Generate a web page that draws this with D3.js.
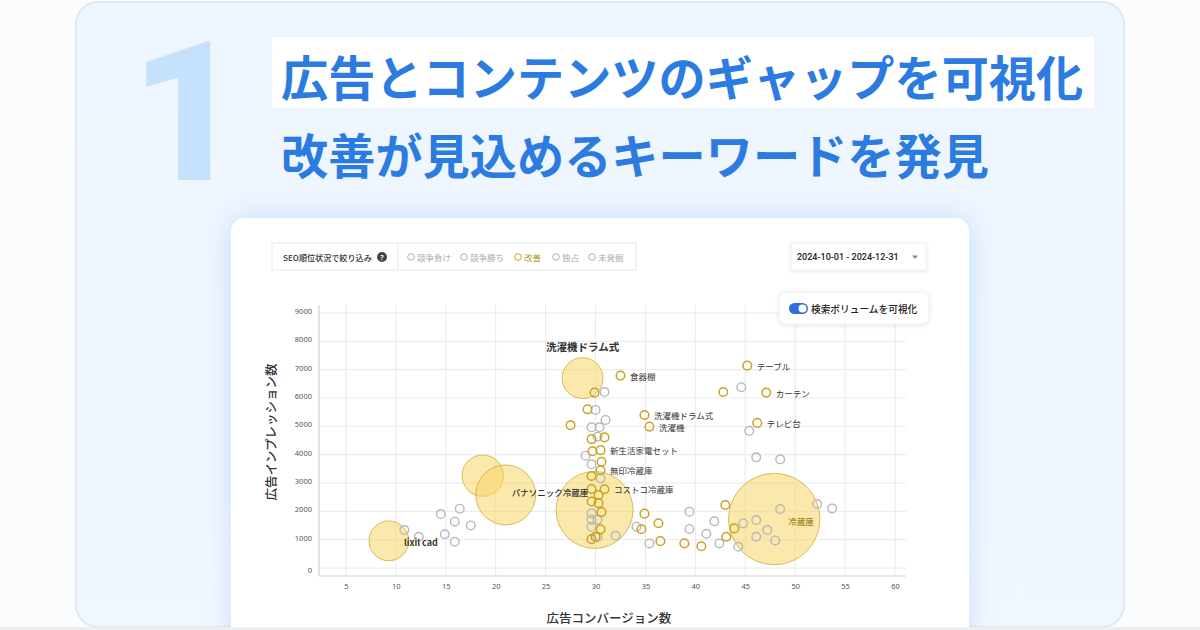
<!DOCTYPE html>
<html lang="ja">
<head>
<meta charset="utf-8">
<script src="https://cdn.jsdelivr.net/npm/d3@7.9.0/dist/d3.min.js"></script>
<style>
  html, body { margin: 0; padding: 0; background: #fbfcfd; }
  svg { display: block; font-family: 'Noto Sans CJK JP', 'Noto Sans', sans-serif; }
</style>
</head>
<body>
<svg id="chart" width="1200" height="630"></svg>
<script>
// ---- data ----
const xTicks = [5, 10, 15, 20, 25, 30, 35, 40, 45, 50, 55, 60];
const yTicks = [0, 1000, 2000, 3000, 4000, 5000, 6000, 7000, 8000, 9000];
const statusOptions = ['競争負け', '競争勝ち', '改善', '独占', '未発掘'];
const activeStatus = '改善';

// bubbles: conversions, impressions, search volume
const bubbleNames = ['lixil cad', '', 'パナソニック冷蔵庫', '', '洗濯機ドラム式', '冷蔵庫'];
const bubbleConv = [9.3, 18.7, 21.0, 29.9, 28.7, 47.9];
const bubbleImp = [960, 3260, 2580, 2050, 6700, 1730];
const bubbleVolume = [19000, 20500, 43000, 71000, 20000, 100000];

// labelled keywords (改善)
const keywordNames = ['食器棚', '洗濯機ドラム式', '洗濯機', '新生活家電セット', '無印冷蔵庫', 'コストコ冷蔵庫', 'テーブル', 'カーテン', 'テレビ台'];
const keywordConv = [32.5, 34.9, 35.4, 30.5, 30.5, 30.9, 45.2, 47.1, 46.2];
const keywordImp = [6790, 5400, 4990, 4160, 3450, 2780, 7140, 6190, 5120];

// other 改善 keywords [conversions, impressions]
const improvePoints = [
  [29.9, 6190], [29.2, 5600], [27.5, 5040], [29.6, 4550], [30.9, 4610], [29.7, 4120],
  [30.6, 3750], [29.6, 3250], [29.6, 2790], [30.3, 2580], [29.6, 2350], [30.3, 2290],
  [30.6, 1975], [30.5, 1365], [29.6, 1020], [30.0, 1100], [34.9, 1920], [36.3, 1580],
  [34.6, 1370], [36.5, 950], [38.9, 870], [40.6, 770], [43.1, 1105], [42.8, 6210],
  [43.0, 2225], [43.9, 1400]
];

// keywords in other statuses
const otherPoints = [
  [10.85, 1340], [12.3, 1105], [14.5, 1905], [16.4, 2095], [15.9, 1635], [17.5, 1505],
  [14.9, 1190], [15.9, 930], [30.9, 6210], [30.0, 5580], [31.0, 5225], [29.6, 4965],
  [30.4, 4965], [30.2, 4635], [29.0, 3965], [29.6, 3660], [30.5, 3165], [29.6, 1930],
  [29.6, 1700], [30.2, 1700], [29.6, 1460], [30.2, 1100], [32.0, 1140], [34.1, 1460],
  [35.4, 870], [39.4, 1990], [39.4, 1380], [41.9, 1650], [41.1, 1210], [42.4, 870],
  [44.6, 6380], [45.4, 4840], [46.1, 3905], [48.5, 3835], [52.2, 2260], [53.7, 2105],
  [48.5, 2080], [44.3, 750], [44.8, 1575], [46.1, 1695], [47.2, 1340], [46.1, 1105],
  [48.0, 975]
];

// ---- drawing ----
const svg = d3.select('#chart');
const defs = svg.append('defs');

const bg = defs.append('linearGradient').attr('id', 'bg').attr('x1', 0).attr('y1', 0).attr('x2', 0).attr('y2', 1);
bg.append('stop').attr('offset', '0%').attr('stop-color', '#edf5fe');
bg.append('stop').attr('offset', '100%').attr('stop-color', '#f1f7fe');

const glow = defs.append('filter').attr('id', 'glow')
  .attr('x', '-20%').attr('y', '-20%').attr('width', '140%').attr('height', '140%');
glow.append('feDropShadow').attr('dx', 0).attr('dy', 0).attr('stdDeviation', 14)
  .attr('flood-color', '#90c2f3').attr('flood-opacity', 0.45);

const soft = defs.append('filter').attr('id', 'soft')
  .attr('x', '-20%').attr('y', '-40%').attr('width', '140%').attr('height', '180%');
soft.append('feDropShadow').attr('dx', 0).attr('dy', 1).attr('stdDeviation', 2)
  .attr('flood-color', '#000').attr('flood-opacity', 0.1);

// outer frame
svg.append('rect').attr('x', 76).attr('y', 2).attr('width', 1048).attr('height', 625)
  .attr('rx', 22).attr('fill', 'url(#bg)').attr('stroke', '#dce3ea').attr('stroke-width', 1.5);

// big number
svg.append('text').attr('x', 187).attr('y', 180).attr('text-anchor', 'middle')
  .attr('font-family', 'Roboto, sans-serif').attr('font-weight', 900).attr('font-size', 195)
  .attr('fill', '#c6e1fb').text('1');

// headline
svg.append('rect').attr('x', 272).attr('y', 37).attr('width', 822).attr('height', 71).attr('fill', '#ffffff');
svg.append('text').attr('x', 281).attr('y', 75).attr('dominant-baseline', 'central')
  .attr('font-size', 47.2).attr('font-weight', 700).attr('fill', '#2c7be0')
  .text('広告とコンテンツのギャップを可視化');
svg.append('text').attr('x', 281).attr('y', 153).attr('dominant-baseline', 'central')
  .attr('font-size', 47.2).attr('font-weight', 700).attr('fill', '#2c7be0')
  .text('改善が見込めるキーワードを発見');

// card
svg.append('rect').attr('x', 231).attr('y', 218).attr('width', 738).attr('height', 430)
  .attr('rx', 14).attr('fill', '#ffffff').attr('filter', 'url(#glow)');

// filter bar
const bar = svg.append('g');
bar.append('rect').attr('x', 272).attr('y', 243).attr('width', 364).attr('height', 27)
  .attr('fill', '#fff').attr('stroke', '#e6e8eb');
bar.append('line').attr('x1', 398).attr('x2', 398).attr('y1', 243).attr('y2', 270).attr('stroke', '#e6e8eb');
bar.append('text').attr('x', 283).attr('y', 257).attr('dominant-baseline', 'central')
  .attr('font-size', 8.1).attr('font-weight', 500).attr('fill', '#333').text('SEO順位状況で絞り込み');
bar.append('circle').attr('cx', 382).attr('cy', 257).attr('r', 5).attr('fill', '#444');
bar.append('text').attr('x', 382).attr('y', 257.5).attr('text-anchor', 'middle').attr('dominant-baseline', 'central')
  .attr('font-family', "'Noto Sans', sans-serif").attr('font-size', 7).attr('font-weight', 700)
  .attr('fill', '#fff').text('?');

const optionX = [411, 464, 518, 556, 592];
const opt = bar.selectAll('g.opt').data(statusOptions).join('g').attr('class', 'opt')
  .attr('transform', (d, i) => `translate(${optionX[i]},257)`);
opt.append('circle').attr('r', 3.3).attr('fill', 'none').attr('stroke-width', 1)
  .attr('stroke', d => d === activeStatus ? '#c9a420' : '#aeb0b5');
opt.append('text').attr('x', 6).attr('dominant-baseline', 'central').attr('font-size', 8.5)
  .attr('fill', d => d === activeStatus ? '#b2951a' : '#a9abb0').text(d => d);

// date picker
svg.append('rect').attr('x', 791).attr('y', 243).attr('width', 135).attr('height', 27)
  .attr('fill', '#fff').attr('stroke', '#eeeff1').attr('filter', 'url(#soft)');
svg.append('text').attr('x', 797).attr('y', 257).attr('dominant-baseline', 'central')
  .attr('font-family', 'Roboto, sans-serif').attr('font-size', 9).attr('font-weight', 500)
  .attr('fill', '#222').text('2024-10-01 - 2024-12-31');
svg.append('path').attr('d', 'M912,255.5 L918,255.5 L915,259 Z').attr('fill', '#888');

// ---- scales ----
const x = d3.scaleLinear().domain([2.3, 61.1]).range([319, 906]);
const y = d3.scaleLinear().domain([-280, 9280]).range([576, 305]);
const r = d3.scaleSqrt().domain([0, 100000]).range([0, 45.7]);

const plot = svg.append('g');

// grid
plot.append('g').selectAll('line').data(xTicks).join('line')
  .attr('x1', d => x(d)).attr('x2', d => x(d)).attr('y1', y.range()[1]).attr('y2', y.range()[0])
  .attr('stroke', '#e8eaee');
plot.append('g').selectAll('line').data(yTicks).join('line')
  .attr('x1', x.range()[0]).attr('x2', x.range()[1]).attr('y1', d => y(d)).attr('y2', d => y(d))
  .attr('stroke', '#e8eaee');

// axes
const xAxis = plot.append('g').attr('transform', `translate(0,${y.range()[0]})`)
  .call(d3.axisBottom(x).tickValues(xTicks).tickFormat(d3.format('d')).tickSize(0).tickPadding(8));
const yAxis = plot.append('g').attr('transform', `translate(${x.range()[0]},0)`)
  .call(d3.axisLeft(y).tickValues(yTicks).tickFormat(d3.format('d')).tickSize(0).tickPadding(7));
[xAxis, yAxis].forEach(a => {
  a.select('.domain').remove();
  a.selectAll('text').attr('font-family', "'Noto Sans', sans-serif").attr('font-size', 7.5).attr('fill', '#555');
});
yAxis.selectAll('text').attr('dy', d => d === 0 ? '0.55em' : '0.05em');

plot.append('line').attr('x1', x.range()[0]).attr('x2', x.range()[1])
  .attr('y1', y.range()[0]).attr('y2', y.range()[0]).attr('stroke', '#c7d3d6').attr('stroke-width', 1.2);
plot.append('line').attr('x1', x.range()[0]).attr('x2', x.range()[0])
  .attr('y1', y.range()[1]).attr('y2', y.range()[0]).attr('stroke', '#c7d3d6').attr('stroke-width', 1.2);

// axis titles
svg.append('text').attr('transform', 'translate(270,432) rotate(-90)').attr('text-anchor', 'middle')
  .attr('dominant-baseline', 'central').attr('font-size', 12.5).attr('font-weight', 500)
  .attr('fill', '#333').text('広告インプレッション数');
svg.append('text').attr('x', 609).attr('y', 617).attr('text-anchor', 'middle')
  .attr('dominant-baseline', 'central').attr('font-size', 12.5).attr('font-weight', 500)
  .attr('fill', '#333').text('広告コンバージョン数');

// bubbles (search volume)
const bubbles = bubbleNames.map((name, i) => ({
  name, conv: bubbleConv[i], imp: bubbleImp[i], volume: bubbleVolume[i]
}));
plot.append('g').selectAll('circle').data(bubbles).join('circle')
  .attr('cx', d => x(d.conv)).attr('cy', d => y(d.imp)).attr('r', d => r(d.volume))
  .attr('fill', 'rgba(248, 214, 102, 0.55)').attr('stroke', 'rgba(204, 168, 52, 0.75)').attr('stroke-width', 1);

// small keyword points
plot.append('g').selectAll('circle').data(otherPoints).join('circle')
  .attr('cx', d => x(d[0])).attr('cy', d => y(d[1])).attr('r', 4.3)
  .attr('fill', 'none').attr('stroke', '#b6b7bf').attr('stroke-width', 1.4);

const keywords = keywordNames.map((name, i) => ({ name, conv: keywordConv[i], imp: keywordImp[i] }));
const improveAll = improvePoints.map(d => ({ conv: d[0], imp: d[1] })).concat(keywords);
plot.append('g').selectAll('circle').data(improveAll).join('circle')
  .attr('cx', d => x(d.conv)).attr('cy', d => y(d.imp)).attr('r', 4.3)
  .attr('fill', 'none').attr('stroke', '#c9a420').attr('stroke-width', 1.5);

plot.append('g').selectAll('text').data(keywords).join('text')
  .attr('x', d => x(d.conv) + 9.5).attr('y', d => y(d.imp)).attr('dominant-baseline', 'central')
  .attr('font-size', 8.5).attr('fill', '#333').text(d => d.name);

// bubble labels
const bubbleLabelStyle = {
  'lixil cad': { dx: 15, dy: 1.5, size: 9, weight: 600, color: '#3a3a2a' },
  'パナソニック冷蔵庫': { dx: 6, dy: -3, size: 8.5, weight: 500, color: '#333' },
  '洗濯機ドラム式': { above: true, size: 10.5, weight: 600, color: '#333' },
  '冷蔵庫': { dx: 14, dy: 2, size: 8.5, weight: 500, color: '#a3861c' }
};
plot.append('g').selectAll('text').data(bubbles.filter(d => d.name)).join('text')
  .each(function (d) {
    const s = bubbleLabelStyle[d.name];
    const t = d3.select(this)
      .attr('dominant-baseline', 'central')
      .attr('font-size', s.size).attr('font-weight', s.weight).attr('fill', s.color).text(d.name);
    if (s.above) {
      t.attr('x', x(d.conv)).attr('y', y(d.imp) - r(d.volume) - 11).attr('text-anchor', 'middle');
    } else {
      t.attr('x', x(d.conv) + s.dx).attr('y', y(d.imp) + s.dy);
    }
  });

// volume toggle
const tog = svg.append('g');
tog.append('rect').attr('x', 779).attr('y', 292).attr('width', 150).attr('height', 32).attr('rx', 6)
  .attr('fill', '#fff').attr('stroke', '#eceef1').attr('filter', 'url(#soft)');
tog.append('rect').attr('x', 789).attr('y', 303).attr('width', 19).attr('height', 11).attr('rx', 5.5)
  .attr('fill', '#2f6fdc');
tog.append('circle').attr('cx', 802.5).attr('cy', 308.5).attr('r', 4).attr('fill', '#fff');
tog.append('text').attr('x', 811).attr('y', 309).attr('dominant-baseline', 'central')
  .attr('font-size', 9.7).attr('font-weight', 500).attr('fill', '#222').text('検索ボリュームを可視化');

// bottom edge strip
svg.append('rect').attr('x', 0).attr('y', 627).attr('width', 1200).attr('height', 3).attr('fill', '#eceef0');
</script>
</body>
</html>
